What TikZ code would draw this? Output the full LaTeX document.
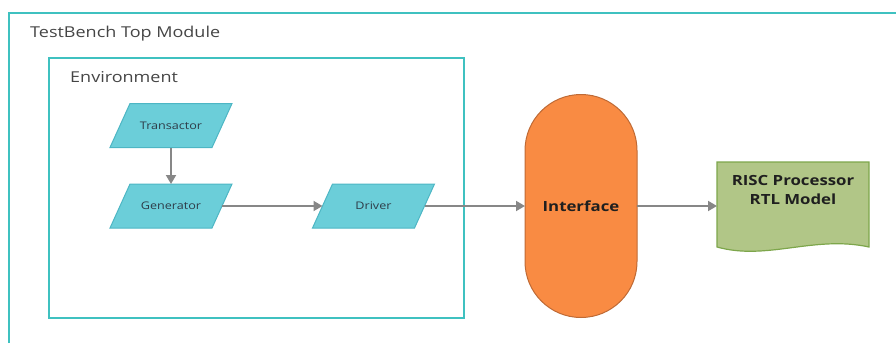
\documentclass[tikz,border=0pt]{standalone}
\usepackage{fontspec}
\setmainfont{Open Sans}[FakeStretch=1.2]
\IfFontExistsTF{Open Sans SemiBold}
  {\newfontfamily\semibold{Open Sans SemiBold}[FakeStretch=1.2]}
  {\newcommand\semibold{\bfseries}}
\usetikzlibrary{arrows.meta}

\definecolor{frameteal}{HTML}{3FC1C0}
\definecolor{cyanfill}{HTML}{6BCED9}
\definecolor{cyanline}{HTML}{4DB6C4}
\definecolor{orangefill}{HTML}{F98B43}
\definecolor{orangeline}{HTML}{BF6A35}
\definecolor{greenfill}{HTML}{B1C687}
\definecolor{greenline}{HTML}{7DA64B}
\definecolor{arrowgray}{HTML}{878787}
\definecolor{titlegray}{HTML}{454545}
\definecolor{labeltext}{HTML}{2E3C48}

\pgfdeclarelayer{shapes}
\pgfsetlayers{shapes,main}

% slanted box behind a rectangular node: the side midpoints stay at west/east
\newcommand\slantbox[1]{%
  \begin{pgfonlayer}{shapes}
    \draw[parashape] ([xshift=-10pt]#1.south west) -- ([xshift=-10pt]#1.south east)
      -- ([xshift=10pt]#1.north east) -- ([xshift=10pt]#1.north west) -- cycle;
  \end{pgfonlayer}}

\begin{document}
\begin{tikzpicture}[x=1pt,y=-1pt,
  frame/.style={draw=frameteal, line width=2pt},
  title/.style={anchor=base west, inner sep=0pt, text=titlegray,
    font=\fontsize{15}{18}\selectfont},
  para/.style={rectangle, minimum width=102pt, minimum height=44pt,
    inner sep=0pt, outer sep=0pt,
    text=labeltext, font=\fontsize{10.5}{12}\selectfont},
  parashape/.style={fill=cyanfill, draw=cyanline, line width=1pt},
  pill/.style={rectangle, rounded corners=56pt, minimum width=112pt, minimum height=223pt,
    fill=orangefill, draw=orangeline, line width=1pt, outer sep=0pt,
    text=black!88, font=\semibold\fontsize{14}{17}\selectfont},
  docarea/.style={rectangle, minimum width=152pt, minimum height=85pt, inner sep=0pt, outer sep=0pt},
  doctext/.style={anchor=north, align=center, inner sep=0pt, text=black!88,
    font=\semibold\fontsize{14}{19}\selectfont},
  flow/.style={draw=arrowgray, line width=1.8pt,
    -{Triangle[length=9pt,width=10pt]}}]

\useasboundingbox (0,0) rectangle (896,343);

% outer test bench frame, open to the right and bottom
\draw[frame] (9,343) -- (9,13) -- (896,13);
\node[title] (tbtitle) at (30,37) {TestBench Top Module};

% environment container
\node[frame, rectangle, minimum width=415pt, minimum height=260pt, inner sep=0pt, outer sep=0pt]
  (env) at (256.5,188) {};
\node[title] (envtitle) at (70,82) {Environment};

% environment components
\node[para] (trans) at (171,125.5) {Transactor};
\node[para] (gen)   at (171,206)   {Generator};
\node[para] (drv)   at (373.5,206) {Driver};
\slantbox{trans}
\slantbox{gen}
\slantbox{drv}

% interface
\node[pill] (iface) at (581,206) {Interface};

% DUT: document shape with wavy bottom
\node[docarea] (risc) at (793,204.5) {};
\draw[fill=greenfill, draw=greenline, line width=1.2pt]
  (risc.south west) -- (risc.north west) -- (risc.north east) -- (risc.south east)
  .. controls ([xshift=-55pt,yshift=12pt]risc.south east)
          and ([xshift=50pt,yshift=-14pt]risc.south west) .. (risc.south west) -- cycle;
\node[doctext] (risctext) at ([yshift=-13pt]risc.north) {RISC Processor\\RTL Model};

% connectors
\draw[flow] (trans.south) -- (gen.north);
\draw[flow] (gen.east) -- (gen.east -| drv.west);
\draw[flow] (drv.east) -- (drv.east -| iface.west);
\draw[flow] (iface.east) -- (iface.east -| risc.west);

\end{tikzpicture}
\end{document}
